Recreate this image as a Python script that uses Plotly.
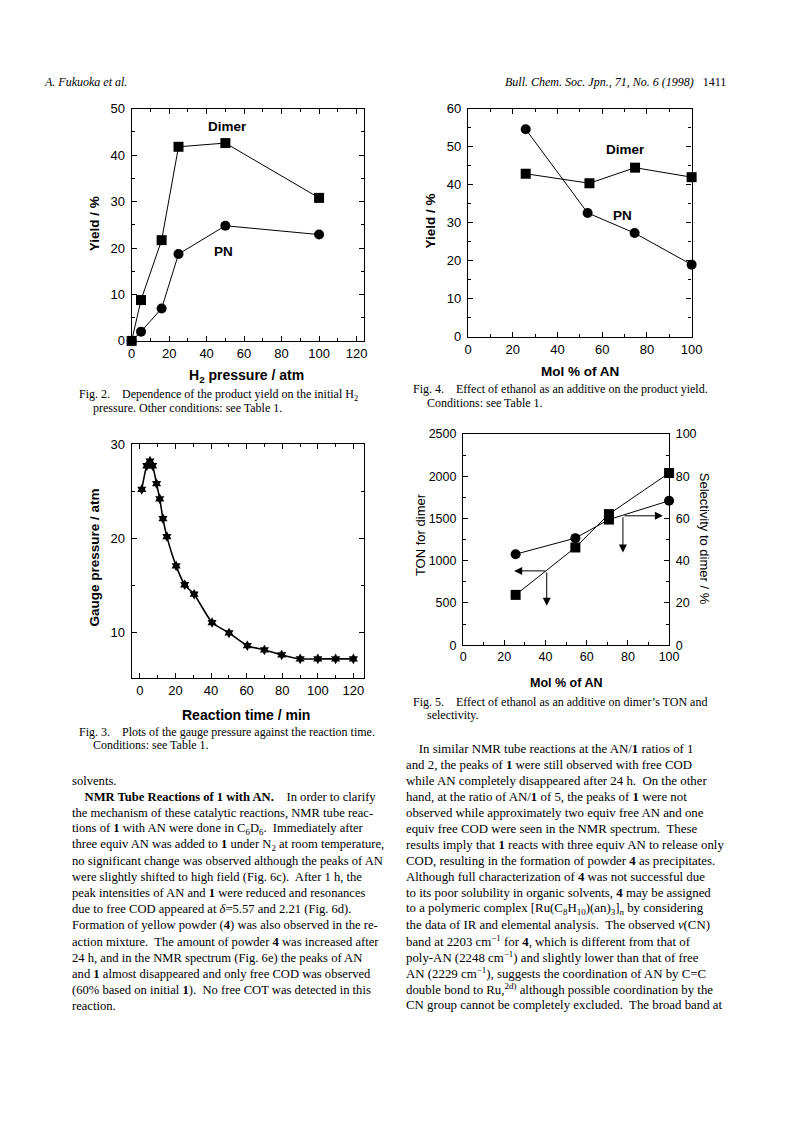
import plotly.graph_objects as go

# page is 793x1123; the browser adds an 8px body margin, so the figure is 777x1107
PAGE_W, PAGE_H = 793, 1123
OFF = 8
W, H = PAGE_W - 2 * OFF, PAGE_H - 2 * OFF
# measured photo mapping (vertical): photo_y = 0.9855 * page_y + 8.5
SY, AY = 0.9855, 8.5

# ---------------- data ----------------
# Fig. 2
f2_x = [0, 5, 16, 25, 50, 100]
f2_dimer = [0, 8.8, 21.7, 41.8, 42.6, 30.8]
f2_pn = [0, 2.0, 7.0, 18.7, 24.8, 22.9]
# Fig. 4
f4_x_dimer = [25.8, 54.3, 74.7, 100]
f4_dimer = [42.9, 40.4, 44.5, 42.0]
f4_x_pn = [25.8, 53.5, 74.5, 100]
f4_pn = [54.6, 32.6, 27.3, 19.0]
# Fig. 3
f3_time = [1.1, 3.9, 5.7, 7.2, 9.4, 11.2, 13, 15.2, 20.4, 25.2, 30.5, 40.6, 50.1,
           60.4, 70, 79.7, 90.1, 100, 110, 120]
f3_press = [25.2, 27.7, 28.2, 27.7, 25.8, 24.2, 22.1, 20.2, 17.1, 15.1, 14.1, 11.1,
            10.0, 8.65, 8.2, 7.67, 7.25, 7.25, 7.25, 7.25]
# Fig. 5
f5_x = [25.5, 54.5, 70.8, 100]
f5_ton = [596, 1157, 1552, 2038]
f5_sel = [43.1, 50.7, 59.5, 68.4]
f5_sel_symbols = ["circle", "circle", "square", "circle"]

BLACK = "black"
SANS = "Liberation Sans, Arial, sans-serif"
SERIF = "Liberation Serif, Times New Roman, serif"


def px(x):
    return (x - OFF) / W


def py(y):
    page_y = (y - AY) / SY
    return 1 - (page_y - OFF) / H


def axis_common(**kw):
    d = dict(showgrid=False, zeroline=False, showline=True, linecolor=BLACK,
             linewidth=1.3, ticks="inside", ticklen=5, tickwidth=1.2,
             tickcolor=BLACK, mirror="ticks",
             tickfont=dict(family=SANS, size=13, color=BLACK))
    d.update(kw)
    return d


MINOR = dict(ticks="inside", ticklen=3, tickcolor=BLACK)

fig = go.Figure()

# Fig 2 traces
fig.add_trace(go.Scatter(x=f2_x, y=f2_dimer, mode="lines+markers", xaxis="x", yaxis="y",
                         line=dict(color=BLACK, width=1),
                         marker=dict(symbol="square", size=10, color=BLACK),
                         cliponaxis=False, showlegend=False))
fig.add_trace(go.Scatter(x=f2_x, y=f2_pn, mode="lines+markers", xaxis="x", yaxis="y",
                         line=dict(color=BLACK, width=1),
                         marker=dict(symbol="circle", size=10, color=BLACK),
                         cliponaxis=False, showlegend=False))
# Fig 4 traces
fig.add_trace(go.Scatter(x=f4_x_dimer, y=f4_dimer, mode="lines+markers", xaxis="x2", yaxis="y2",
                         line=dict(color=BLACK, width=1),
                         marker=dict(symbol="square", size=10, color=BLACK),
                         cliponaxis=False, showlegend=False))
fig.add_trace(go.Scatter(x=f4_x_pn, y=f4_pn, mode="lines+markers", xaxis="x2", yaxis="y2",
                         line=dict(color=BLACK, width=1),
                         marker=dict(symbol="circle", size=10, color=BLACK),
                         cliponaxis=False, showlegend=False))
# Fig 3 trace
fig.add_trace(go.Scatter(x=f3_time, y=f3_press, mode="lines+markers", xaxis="x3", yaxis="y3",
                         line=dict(color=BLACK, width=1.6, shape="spline", smoothing=0.6),
                         marker=dict(symbol="hexagram", size=8, color=BLACK),
                         cliponaxis=False, showlegend=False))
# Fig 5 traces
fig.add_trace(go.Scatter(x=f5_x, y=f5_sel, mode="lines+markers", xaxis="x4", yaxis="y5",
                         line=dict(color=BLACK, width=1),
                         marker=dict(symbol=f5_sel_symbols, size=10, color=BLACK),
                         cliponaxis=False, showlegend=False))
fig.add_trace(go.Scatter(x=f5_x, y=f5_ton, mode="lines+markers", xaxis="x4", yaxis="y4",
                         line=dict(color=BLACK, width=1),
                         marker=dict(symbol="square", size=10, color=BLACK),
                         cliponaxis=False, showlegend=False))

fig.update_layout(
    width=W, height=H, margin=dict(l=0, r=0, t=0, b=0),
    paper_bgcolor="white", plot_bgcolor="white", showlegend=False,
    xaxis=axis_common(domain=[px(130), px(367)], range=[0, 124], dtick=20, tick0=0,
                      anchor="y", minor=dict(dtick=10, **MINOR)),
    yaxis=axis_common(domain=[py(342), py(110)], range=[0, 50], dtick=10, anchor="x",
                      ticklabelstandoff=3, minor=dict(dtick=5, **MINOR)),
    xaxis2=axis_common(domain=[px(473), px(701)], range=[0, 100], dtick=20, anchor="y2",
                       minor=dict(dtick=10, **MINOR)),
    yaxis2=axis_common(domain=[py(338), py(110)], range=[0, 60], dtick=10, anchor="x2",
                       ticklabelstandoff=3, minor=dict(dtick=5, **MINOR)),
    xaxis3=axis_common(domain=[px(130), px(367)], range=[-4.6, 126], dtick=20, tick0=0,
                       anchor="y3", minor=dict(dtick=10, **MINOR)),
    yaxis3=axis_common(domain=[py(679), py(445)], range=[5.2, 30], dtick=10, tick0=0, anchor="x3",
                       ticklabelstandoff=3, minor=dict(dtick=5, **MINOR)),
    xaxis4=axis_common(domain=[px(468), px(678)], range=[0, 100], dtick=20, anchor="y4",
                       mirror=True, tickfont=dict(family=SANS, size=12.5, color=BLACK),
                       minor=dict(dtick=10, **MINOR)),
    yaxis4=axis_common(domain=[py(646), py(435)], range=[0, 2500], dtick=500, anchor="x4",
                       mirror=False, ticklabelstandoff=3,
                       tickfont=dict(family=SANS, size=12.5, color=BLACK),
                       minor=dict(dtick=250, **MINOR)),
    yaxis5=axis_common(range=[0, 100], dtick=20, anchor="x4", overlaying="y4", side="right",
                       mirror=False, ticklabelstandoff=3,
                       tickfont=dict(family=SANS, size=12.5, color=BLACK),
                       minor=dict(dtick=10, **MINOR)),
)

ann = []


def text(x, y, t, size=12, family=SANS, anchor="left", angle=0, color=BLACK, yanchor="middle"):
    ann.append(dict(x=px(x), y=py(y), xref="paper", yref="paper", text=t, showarrow=False,
                    xanchor=anchor, yanchor=yanchor, textangle=angle, borderpad=0,
                    font=dict(family=family, size=size, color=color)))


# header
text(40, 83, "<i>A. Fukuoka et al.</i>", size=12, family=SERIF)
text(737, 83, "<i>Bull. Chem. Soc. Jpn., 71, No. 6 (1998)</i>   1411", size=12,
     family=SERIF, anchor="right")

# axis titles
text(247, 377, "<b>H<sub>2</sub> pressure / atm</b>", size=14, anchor="center")
text(92, 225, "<b>Yield / %</b>", size=13.5, anchor="center", angle=-90)
text(587, 373, "<b>Mol % of AN</b>", size=13.5, anchor="center")
text(435, 222, "<b>Yield / %</b>", size=13.5, anchor="center", angle=-90)
text(247, 716, "<b>Reaction time / min</b>", size=14, anchor="center")
text(92, 558, "<b>Gauge pressure / atm</b>", size=13.5, anchor="center", angle=-90)
text(573, 684, "<b>Mol % of AN</b>", size=12.5, anchor="center")
text(424, 535, "TON for dimer", size=13, anchor="center", angle=-90)
text(715, 540, "Selectivity to dimer / %", size=13, anchor="center", angle=90)


# in-plot labels (data coords)
def dlabel(xr, yr, x, y, t, size=13.5):
    ann.append(dict(x=x, y=y, xref=xr, yref=yr, text=t, showarrow=False,
                    xanchor="center", yanchor="middle",
                    font=dict(family=SANS, size=size, color=BLACK)))


dlabel("x", "y", 51, 46.1, "<b>Dimer</b>")
dlabel("x", "y", 49, 19.3, "<b>PN</b>")
dlabel("x2", "y2", 70.6, 49.2, "<b>Dimer</b>")
dlabel("x2", "y2", 68.9, 31.8, "<b>PN</b>")


# arrows in fig 5
def arrow(x, y, ax, ay):
    ann.append(dict(x=x, y=y, ax=ax, ay=ay, xref="x4", yref="y4", axref="x4", ayref="y4",
                    text="", showarrow=True, arrowhead=2, arrowsize=1.6, arrowwidth=1,
                    arrowcolor=BLACK))


arrow(24.8, 880, 40.6, 880)
arrow(40.6, 466, 40.6, 880)
arrow(97, 1532, 77.6, 1532)
arrow(77.6, 1098, 77.6, 1532)

# captions
CAP = 12
text(75, 396, "Fig. 2.    Dependence of the product yield on the initial H<sub>2</sub>", size=CAP, family=SERIF)
text(90, 409, "pressure. Other conditions: see Table 1.", size=CAP, family=SERIF)
text(416, 390, "Fig. 4.    Effect of ethanol as an additive on the product yield.", size=CAP, family=SERIF)
text(430, 404, "Conditions: see Table 1.", size=CAP, family=SERIF)
text(75, 733, "Fig. 3.    Plots of the gauge pressure against the reaction time.", size=CAP, family=SERIF)
text(90, 746, "Conditions: see Table 1.", size=CAP, family=SERIF)
text(416, 703, "Fig. 5.    Effect of ethanol as an additive on dimer\u2019s TON and", size=CAP, family=SERIF)
text(430, 716, "selectivity.", size=CAP, family=SERIF)

# body text
left_lines = [
    "solvents.",
    "    <b>NMR Tube Reactions of 1 with AN.</b>    In order to clarify",
    "the mechanism of these catalytic reactions, NMR tube reac-",
    "tions of <b>1</b> with AN were done in C<sub>6</sub>D<sub>6</sub>.  Immediately after",
    "three equiv AN was added to <b>1</b> under N<sub>2</sub> at room temperature,",
    "no significant change was observed although the peaks of AN",
    "were slightly shifted to high field (Fig. 6c).  After 1 h, the",
    "peak intensities of AN and <b>1</b> were reduced and resonances",
    "due to free COD appeared at <i>\u03b4</i>=5.57 and 2.21 (Fig. 6d).",
    "Formation of yellow powder (<b>4</b>) was also observed in the re-",
    "action mixture.  The amount of powder <b>4</b> was increased after",
    "24 h, and in the NMR spectrum (Fig. 6e) the peaks of AN",
    "and <b>1</b> almost disappeared and only free COD was observed",
    "(60% based on initial <b>1</b>).  No free COT was detected in this",
    "reaction.",
]
right_lines = [
    "    In similar NMR tube reactions at the AN/<b>1</b> ratios of 1",
    "and 2, the peaks of <b>1</b> were still observed with free COD",
    "while AN completely disappeared after 24 h.  On the other",
    "hand, at the ratio of AN/<b>1</b> of 5, the peaks of <b>1</b> were not",
    "observed while approximately two equiv free AN and one",
    "equiv free COD were seen in the NMR spectrum.  These",
    "results imply that <b>1</b> reacts with three equiv AN to release only",
    "COD, resulting in the formation of powder <b>4</b> as precipitates.",
    "Although full characterization of <b>4</b> was not successful due",
    "to its poor solubility in organic solvents, <b>4</b> may be assigned",
    "to a polymeric complex [Ru(C<sub>8</sub>H<sub>10</sub>)(an)<sub>3</sub>]<sub><i>n</i></sub> by considering",
    "the data of IR and elemental analysis.  The observed <i>\u03bd</i>(CN)",
    "band at 2203 cm<sup>\u22121</sup> for <b>4</b>, which is different from that of",
    "poly-AN (2248 cm<sup>\u22121</sup>) and slightly lower than that of free",
    "AN (2229 cm<sup>\u22121</sup>), suggests the coordination of AN by C=C",
    "double bond to Ru,<sup>2d)</sup> although possible coordination by the",
    "CN group cannot be completely excluded.  The broad band at",
]
for i, line in enumerate(left_lines):
    text(68, 782 + 16 * i, line, size=12.6, family=SERIF)
for i, line in enumerate(right_lines):
    text(409, 750 + 15.95 * i, line, size=12.85, family=SERIF)

fig.update_layout(annotations=ann)
fig.write_html("out.html", config={"displayModeBar": False})
